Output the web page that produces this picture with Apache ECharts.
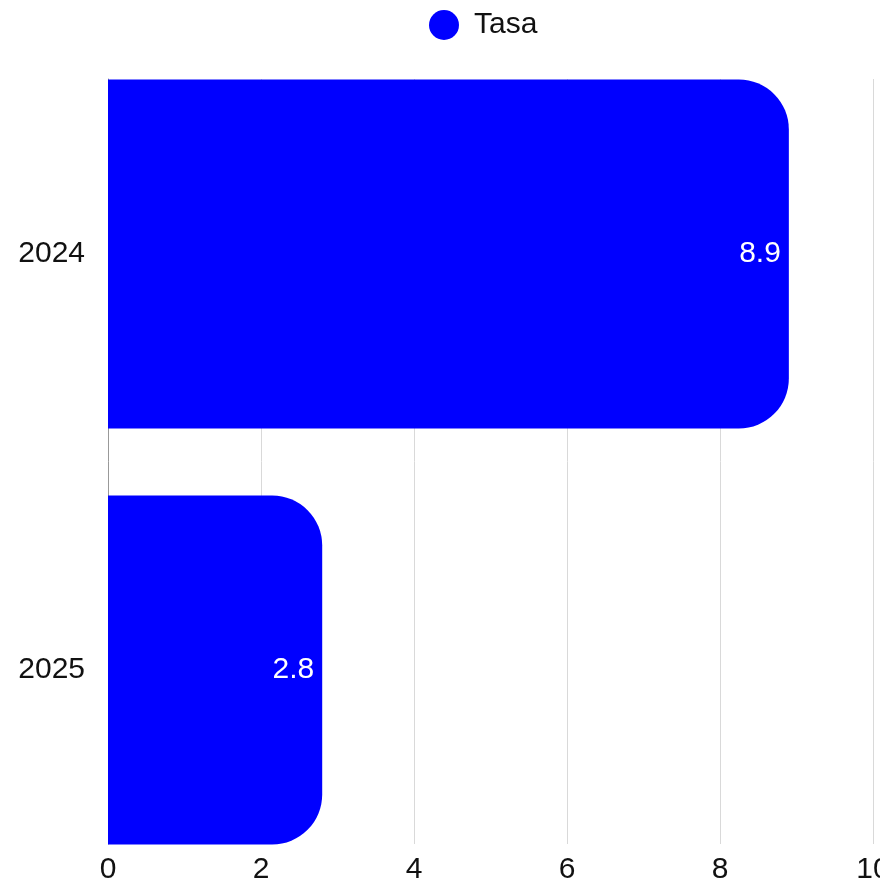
<!DOCTYPE html>
<html>
<head>
<meta charset="utf-8">
<style>
    html, body {margin:0;padding:0;background:#fff;}
    #chart {width:880px;height:888px;}
</style>
</head>
<body>
<div id="chart"></div>
<script src="https://cdn.jsdelivr.net/npm/echarts@6/dist/echarts.min.js"></script>
<script>
var years = ['2024', '2025'];
var tasa = [8.9, 2.8];
var xTicks = {min: 0, max: 10, step: 2};
var seriesName = 'Tasa';

var font = 'Liberation Sans, Arial, sans-serif';

var option = {
    animation: false,
    textStyle: {fontFamily: font},
    legend: {
        top: 5,
        left: 424,
        icon: 'circle',
        itemWidth: 30,
        itemHeight: 30,
        data: [seriesName],
        textStyle: {fontSize: 30, color: '#111', fontFamily: font, padding: [0, 0, 0, 10]}
    },
    // grid 0 holds the bars, grid 1 draws the value axis + gridlines
    grid: [
        {left: 108, right: 7, top: 46, bottom: 10, outerBoundsMode: 'none'},
        {left: 108, right: 7, top: 79, bottom: 44, outerBoundsMode: 'none'}
    ],
    xAxis: [
        {gridIndex: 0, type: 'value', min: xTicks.min, max: xTicks.max, show: false},
        {
            gridIndex: 1, type: 'value', min: xTicks.min, max: xTicks.max, interval: xTicks.step,
            axisLine: {show: false},
            axisTick: {show: false},
            splitLine: {show: true, lineStyle: {color: '#d9d9d9', width: 1}},
            axisLabel: {fontSize: 30, color: '#111', margin: 11, fontFamily: font}
        }
    ],
    yAxis: [
        {
            gridIndex: 0, type: 'category', inverse: true, data: years,
            axisLine: {show: false},
            axisTick: {show: false},
            axisLabel: {fontSize: 30, color: '#111', margin: 23, fontFamily: font, padding: [4, 0, 0, 0]}
        },
        {
            gridIndex: 1, type: 'category', inverse: true, data: years,
            axisLine: {show: true, lineStyle: {color: '#999', width: 1}},
            axisTick: {show: false},
            axisLabel: {show: false},
            splitLine: {show: false}
        }
    ],
    series: [{
        name: seriesName,
        type: 'bar',
        xAxisIndex: 0,
        yAxisIndex: 0,
        data: tasa,
        barWidth: 349,
        itemStyle: {color: '#0000ff', borderRadius: [0, 50, 50, 0]},
        label: {
            show: true,
            position: 'insideRight',
            distance: 8,
            color: '#fff',
            fontSize: 30,
            fontFamily: font,
            padding: [4, 0, 0, 0]
        }
    }]
};

echarts.init(document.getElementById('chart')).setOption(option);
</script>
</body>
</html>
